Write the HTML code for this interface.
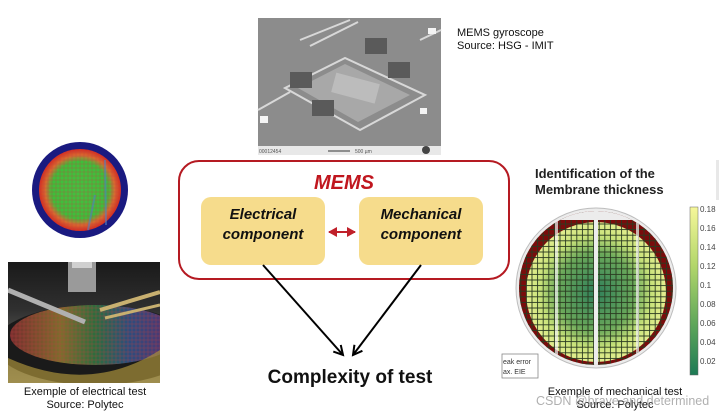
<!DOCTYPE html>
<html><head><meta charset="utf-8"><style>
html,body{margin:0;padding:0;background:#fff;}
body{width:728px;height:415px;position:relative;overflow:hidden;font-family:"Liberation Sans",Arial,sans-serif;}
.t{position:absolute;white-space:nowrap;}
</style></head><body>
<svg width="728" height="415" style="position:absolute;left:0;top:0" xmlns="http://www.w3.org/2000/svg">
<defs>
  <pattern id="g5" width="5.6" height="5.6" patternUnits="userSpaceOnUse"><rect width="5.6" height="5.6" fill="none" stroke="#2a3a20" stroke-width="0.9"/></pattern>
  <pattern id="g3" width="4" height="4" patternUnits="userSpaceOnUse"><rect width="4" height="4" fill="none" stroke="#c04040" stroke-width="0.5" opacity="0.6"/></pattern>
  <radialGradient id="rw" cx="0.5" cy="0.5" r="0.5">
    <stop offset="0" stop-color="#2f7f5a"/><stop offset="0.55" stop-color="#6aa85a"/><stop offset="0.8" stop-color="#c8e27a"/><stop offset="1" stop-color="#e4ee90"/>
  </radialGradient>
  <linearGradient id="cb" x1="0" y1="0" x2="0" y2="1"><stop offset="0" stop-color="#f6f79a"/><stop offset="0.35" stop-color="#b2d66a"/><stop offset="0.7" stop-color="#5ea65a"/><stop offset="1" stop-color="#1d7a55"/></linearGradient>
  <radialGradient id="lw" cx="0.5" cy="0.5" r="0.5">
    <stop offset="0" stop-color="#44c040"/><stop offset="0.7" stop-color="#3ebe3a"/><stop offset="0.85" stop-color="#d86a30"/><stop offset="1" stop-color="#d42a20"/>
  </radialGradient>
  <linearGradient id="ph" x1="0" y1="0" x2="0" y2="1"><stop offset="0" stop-color="#1a1a1a"/><stop offset="0.4" stop-color="#303030"/><stop offset="1" stop-color="#8a8a80"/></linearGradient>
  <linearGradient id="rb" x1="0" y1="0" x2="1" y2="0"><stop offset="0" stop-color="#d04040"/><stop offset="0.3" stop-color="#e0c040"/><stop offset="0.5" stop-color="#40c060"/><stop offset="0.7" stop-color="#4080e0"/><stop offset="1" stop-color="#a040c0"/></linearGradient>
  <clipPath id="rc"><circle cx="596" cy="288" r="77"/></clipPath>
  <clipPath id="lc"><rect x="30" y="138" width="100" height="108"/></clipPath>
  <clipPath id="pc"><rect x="8" y="262" width="152" height="121"/></clipPath>
  <marker id="ah" markerWidth="12" markerHeight="12" refX="10" refY="6" orient="auto" markerUnits="userSpaceOnUse"><path d="M1,1 L10,6 L1,11" fill="none" stroke="#000" stroke-width="2"/></marker>
  <marker id="ra" markerWidth="10" markerHeight="10" refX="8" refY="5" orient="auto" markerUnits="userSpaceOnUse"><path d="M0,0 L9,5 L0,10 Z" fill="#c0202a"/></marker>
  <marker id="rs" markerWidth="10" markerHeight="10" refX="1" refY="5" orient="auto" markerUnits="userSpaceOnUse"><path d="M9,0 L0,5 L9,10 Z" fill="#c0202a"/></marker>
</defs>

<!-- SEM image -->
<rect x="258" y="18" width="183" height="128" fill="#8c8c8c"/>
<rect x="258" y="146" width="183" height="9" fill="#e8e8e8"/>
<g fill="none" stroke="#d8d8d8" stroke-width="2">
  <path d="M285,88 L345,58 L425,95 L360,130 Z"/>
  <path d="M300,40 L350,20 M310,46 L358,22 M420,40 L441,30 M258,110 L290,92"/>
</g>
<path d="M298,88 L345,64 L410,95 L358,122 Z" fill="#a8a8a8"/>
<rect x="333" y="78" width="45" height="20" fill="#bcbcbc" transform="rotate(15 355 88)"/>
<rect x="290" y="72" width="22" height="16" fill="#5a5a5a"/>
<rect x="312" y="100" width="22" height="16" fill="#5a5a5a"/>
<rect x="365" y="38" width="22" height="16" fill="#5a5a5a"/>
<rect x="388" y="62" width="22" height="16" fill="#5a5a5a"/>
<rect x="428" y="28" width="8" height="6" fill="#f4f4f4"/>
<rect x="260" y="116" width="8" height="7" fill="#f4f4f4"/>
<rect x="420" y="108" width="7" height="6" fill="#f4f4f4"/>
<text x="259" y="153" font-size="5" fill="#555" font-family="Liberation Sans">00012454</text>
<line x1="328" y1="151" x2="350" y2="151" stroke="#333" stroke-width="1"/>
<text x="355" y="153" font-size="5" fill="#555" font-family="Liberation Sans">500 µm</text>
<circle cx="426" cy="150" r="4" fill="#444"/>

<!-- left wafer -->
<g clip-path="url(#lc)">
<circle cx="80" cy="190" r="48" fill="#1a1a80"/>
<circle cx="80" cy="190" r="41" fill="url(#lw)"/>
<circle cx="80" cy="190" r="41" fill="url(#g3)"/>
<path d="M105,160 L106,225 M88,230 L95,195" stroke="#5080c0" stroke-width="2" opacity="0.6"/>
</g>

<!-- left photo -->
<g clip-path="url(#pc)">
<rect x="8" y="262" width="152" height="121" fill="url(#ph)"/>
<ellipse cx="95" cy="345" rx="100" ry="40" fill="#1a1a1a"/>
<ellipse cx="95" cy="335" rx="85" ry="30" fill="url(#rb)" opacity="0.5"/>
<ellipse cx="95" cy="335" rx="85" ry="30" fill="url(#g3)"/>
<rect x="68" y="262" width="28" height="30" fill="#9a9a9a"/>
<rect x="72" y="262" width="20" height="6" fill="#d0d0d0"/>
<line x1="8" y1="290" x2="85" y2="322" stroke="#b0b0b0" stroke-width="5"/>
<line x1="160" y1="292" x2="100" y2="310" stroke="#c8b070" stroke-width="4"/>
<line x1="160" y1="305" x2="105" y2="318" stroke="#c8b070" stroke-width="3"/>
<path d="M8,358 Q90,395 160,350 L160,383 L8,383 Z" fill="#a8903a" opacity="0.7"/>
</g>

<!-- right wafer -->
<circle cx="596" cy="288" r="80" fill="#ececec" stroke="#bdbdbd"/>
<g clip-path="url(#rc)">
  <rect x="516" y="208" width="160" height="160" fill="#7a0c0c"/>
  <circle cx="596" cy="292" r="70" fill="url(#rw)"/>
  <rect x="516" y="208" width="160" height="160" fill="url(#g5)"/>
  <rect x="594" y="208" width="4" height="160" fill="#ececec"/>
  <rect x="555" y="208" width="3" height="160" fill="#f4f4f4" opacity="0.7"/>
  <rect x="636" y="208" width="3" height="160" fill="#f4f4f4" opacity="0.7"/>
  <rect x="516" y="208" width="160" height="12" fill="#ececec"/>
</g>
<rect x="502" y="354" width="36" height="24" fill="#fff" stroke="#888" stroke-width="0.8"/>
<text x="503" y="364" font-size="7" fill="#333" font-family="Liberation Sans">eak error</text>
<text x="503" y="374" font-size="7" fill="#333" font-family="Liberation Sans">ax. EIE</text>
<rect x="690" y="207" width="8" height="168" fill="url(#cb)" stroke="#666" stroke-width="0.5"/>
<g font-size="8" fill="#444" font-family="Liberation Sans">
<text x="700" y="212">0.18</text><text x="700" y="231">0.16</text><text x="700" y="250">0.14</text><text x="700" y="269">0.12</text><text x="700" y="288">0.1</text><text x="700" y="307">0.08</text><text x="700" y="326">0.06</text><text x="700" y="345">0.04</text><text x="700" y="364">0.02</text>
</g>
<rect x="716" y="160" width="3" height="40" fill="#e8e8e8"/>

<!-- MEMS box -->
<rect x="179" y="161" width="330" height="118" rx="20" fill="#fff" stroke="#b51a22" stroke-width="2"/>
<rect x="201" y="197" width="124" height="68" rx="10" fill="#f6dc8c"/>
<rect x="359" y="197" width="124" height="68" rx="10" fill="#f6dc8c"/>
<line x1="329" y1="232" x2="355" y2="232" stroke="#c0202a" stroke-width="2" marker-end="url(#ra)" marker-start="url(#rs)"/>
<line x1="263" y1="265" x2="343" y2="355" stroke="#000" stroke-width="2" marker-end="url(#ah)"/>
<line x1="421" y1="265" x2="353" y2="355" stroke="#000" stroke-width="2" marker-end="url(#ah)"/>
</svg>

<div class="t" style="left:457px;top:27px;font-size:11px;line-height:13px;color:#111">MEMS gyroscope<br>Source: HSG - IMIT</div>
<div class="t" style="left:179px;width:330px;top:172px;text-align:center;font-size:20px;font-weight:bold;font-style:italic;color:#c0161e">MEMS</div>
<div class="t" style="left:201px;width:124px;top:205px;text-align:center;font-size:15px;line-height:20px;font-weight:bold;font-style:italic;color:#111">Electrical<br>component</div>
<div class="t" style="left:359px;width:124px;top:205px;text-align:center;font-size:15px;line-height:20px;font-weight:bold;font-style:italic;color:#111">Mechanical<br>component</div>
<div class="t" style="left:250px;width:200px;top:367px;text-align:center;font-size:19px;font-weight:bold;color:#111">Complexity of test</div>
<div class="t" style="left:0;width:170px;top:386px;text-align:center;font-size:11px;line-height:13px;color:#111">Exemple of electrical test<br>Source: Polytec</div>
<div class="t" style="left:535px;top:166px;font-size:13px;line-height:16px;font-weight:bold;color:#222">Identification of the<br>Membrane thickness</div>
<div class="t" style="left:535px;width:160px;top:386px;text-align:center;font-size:11px;line-height:13px;color:#111">Exemple of mechanical test<br>Source: Polytec</div>
<div class="t" style="left:536px;top:394px;font-size:12.5px;color:rgba(150,150,150,0.75)">CSDN @brave and determined</div>
</body></html>
